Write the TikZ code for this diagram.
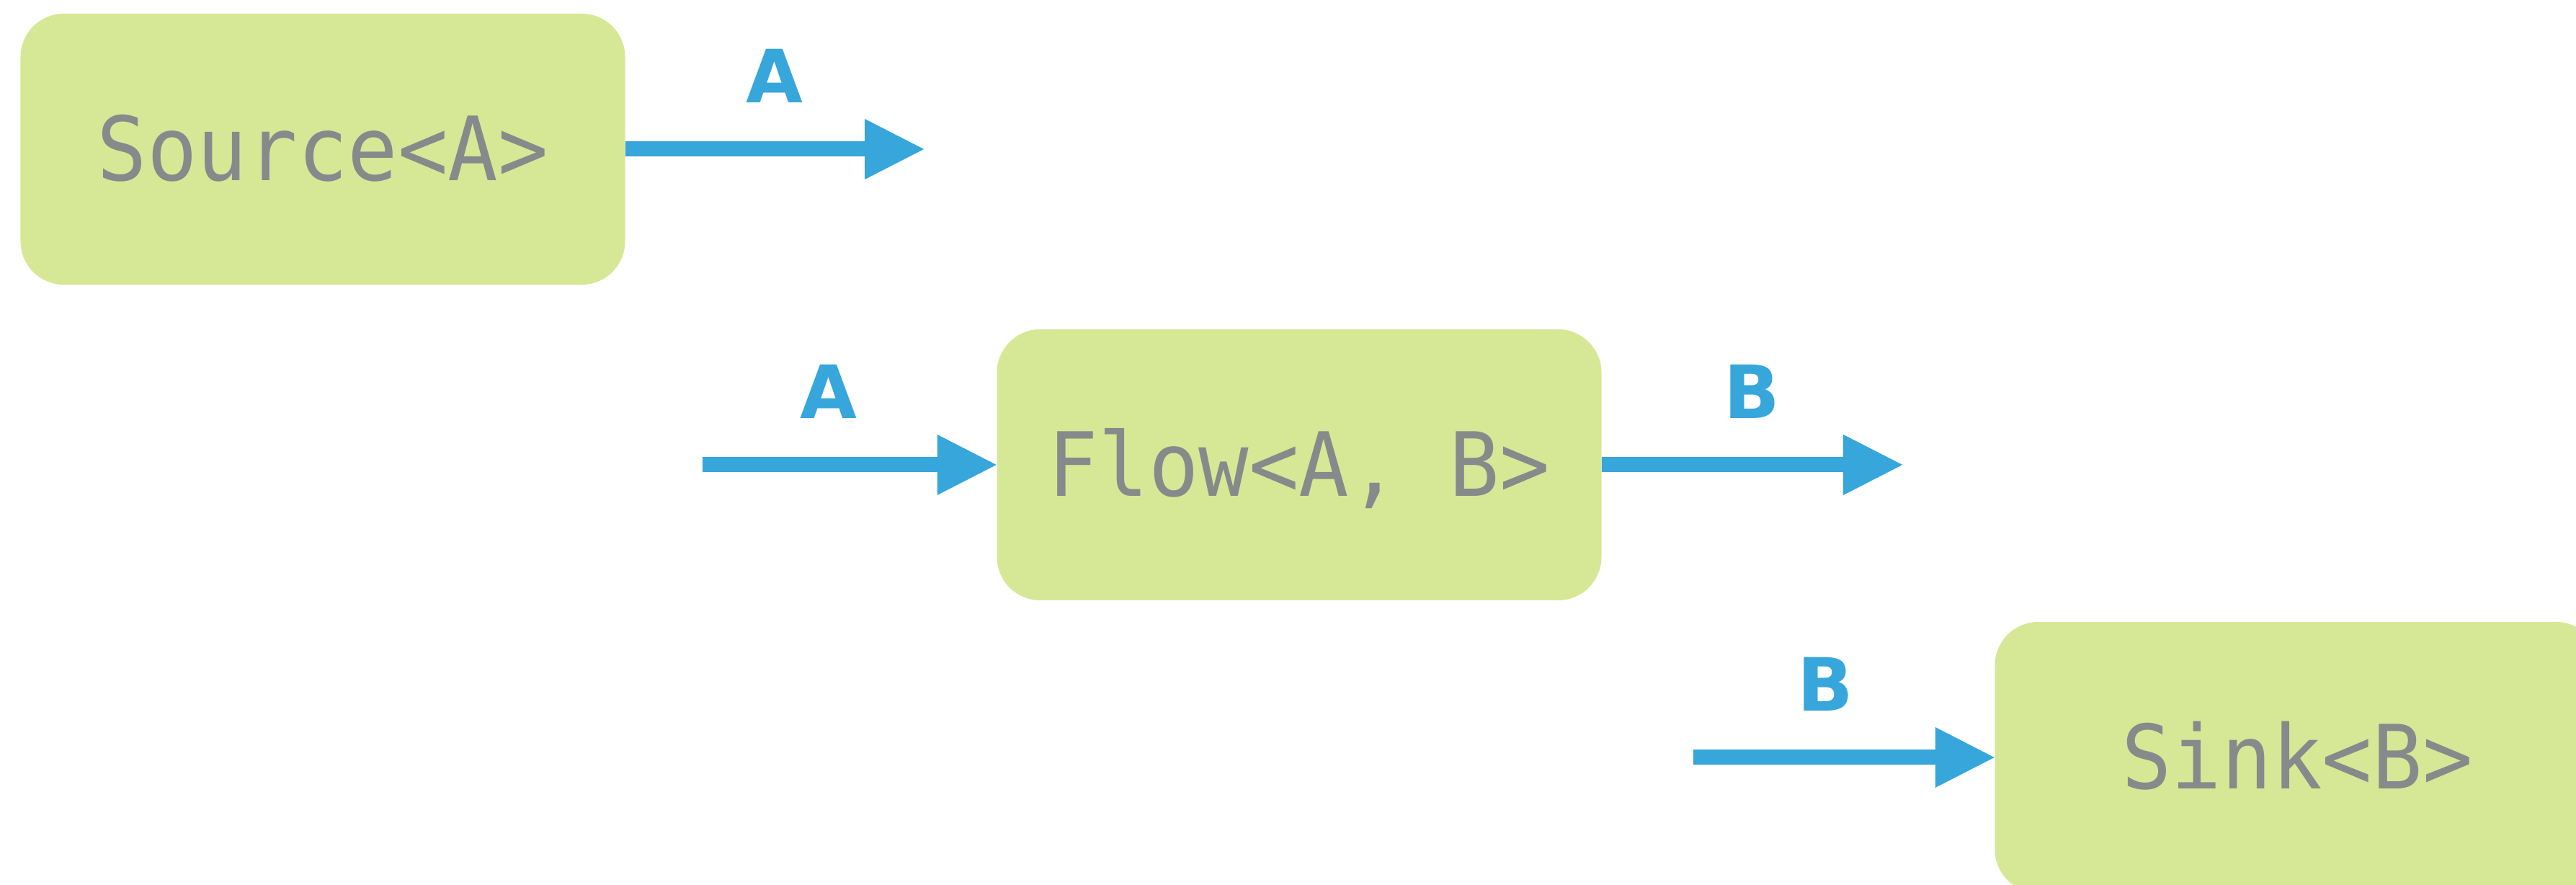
\documentclass[tikz,border=0pt]{standalone}
\usepackage{fontspec}
\usepackage{xcolor}
\usetikzlibrary{arrows.meta,positioning}
\newfontfamily\monofont[FakeStretch=0.94]{DejaVu Sans Mono}
\newfontfamily\labelfont{DejaVu Sans}
\definecolor{boxgreen}{HTML}{D6E895}
\definecolor{textgray}{HTML}{878A8B}
\definecolor{flowblue}{HTML}{36A6DB}

\begin{document}
\begin{tikzpicture}
		\tikzset{
		    vertex/.style={rectangle,rounded corners=0.6cm,fill=boxgreen,text=textgray,minimum width=8.39cm,minimum height=3.76cm,inner sep=0pt,text height=0.87cm,text depth=0pt,font=\monofont\fontsize{35}{35}\selectfont},
		    edge/.style={-{Triangle[length=0.82cm,width=0.84cm,line width=0pt]},line width=0.21cm,flowblue},
		    typelabel/.style={above=0.64cm,inner sep=0pt,outer sep=0pt,text depth=0pt,text=flowblue,font=\labelfont\bfseries\fontsize{29}{29}\selectfont}
		}
		\useasboundingbox (0,0) rectangle (35.75,-12.28);
		\clip (0,0) rectangle (35.75,-12.28);

		% vertices
		\node[vertex] (source) at (4.48,-2.07) {Source<A>};
		\node[vertex] (flow) at (18.03,-6.45) {Flow<A, B>};
		\node[vertex] (sink) at (31.88,-10.51) {Sink<B>};

		% loose ends
		\coordinate (sourceout) at ([xshift=4.14cm]source.east);
		\coordinate (flowin) at ([xshift=-4.08cm]flow.west);
		\coordinate (flowout) at ([xshift=4.17cm]flow.east);
		\coordinate (sinkin) at ([xshift=-4.18cm]sink.west);

		%edges
		\draw[edge] (source.east) -- (sourceout) node[typelabel,midway] {A};
		\draw[edge] (flowin) -- (flow.west) node[typelabel,pos=0.43] {A};
		\draw[edge] (flow.east) -- (flowout) node[typelabel,midway] {B};
		\draw[edge] (sinkin) -- (sink.west) node[typelabel,pos=0.44] {B};

	\end{tikzpicture}
\end{document}
